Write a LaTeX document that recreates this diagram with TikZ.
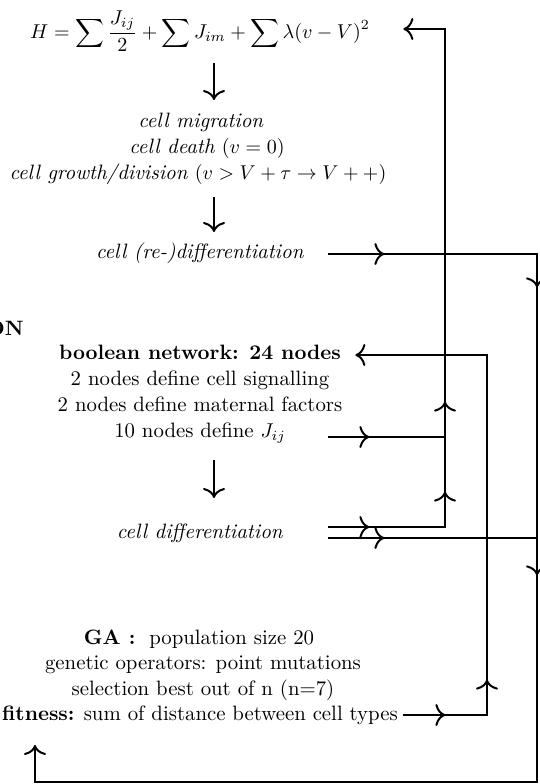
\documentclass[tikz,border=0pt]{standalone}
\usetikzlibrary{arrows.meta,decorations.markings}
\tikzset{
  hd/.tip={Computer Modern Rightarrow[length=5pt,width=11pt]},
  wire/.style={line width=1pt},
  arr at/.style={postaction={decorate,decoration={markings,mark=at position #1 with {\arrow{hd}}}}},
  txt/.style={inner sep=0pt,anchor=base,font=\fontsize{10.4}{12.5}\selectfont},
}
\begin{document}
\begin{tikzpicture}[x=0.5pt,y=-0.5pt]
\fill[white] (0,0) rectangle (540,784);
\useasboundingbox (0,0) rectangle (540,784);
% texts
\node[txt,minimum width=203pt] (H) at (200,38) {$\displaystyle H=\sum\frac{J_{ij}}{2}+\sum J_{im}+\sum\lambda(v-V)^2$};
\node[txt] (mig) at (201,127) {\textit{cell migration}};
\node[txt] (death) at (207,153) {\textit{cell death} $(v=0)$};
\node[txt] (grow) at (198,179) {\textit{cell growth/division} $(v>V+\tau\rightarrow V++)$};
\node[txt,minimum width=128pt] (rd) at (200,258) {\textit{cell (re-)differentiation}};
\node[txt,anchor=base east] (on) at (24,335) {\textbf{ON}};
\node[txt,minimum width=155pt] (bn) at (200,359) {\textbf{boolean network: 24 nodes}};
\node[txt] (sig) at (200,385) {2 nodes define cell signalling};
\node[txt] (mat) at (200,411) {2 nodes define maternal factors};
\node[txt,minimum width=128pt] (jn) at (200,437) {10 nodes define $J_{ij}$};
\node[txt,minimum width=128pt] (cd) at (200,538) {\textit{cell differentiation}};
\node[txt] (ga) at (199,644) {\textbf{GA :}\ \ population size 20};
\node[txt] (gen) at (203,669) {genetic operators: point mutations};
\node[txt] (sel) at (203,695) {selection best out of n (n=7)};
\node[txt,minimum width=203pt] (fit) at (200,720) {\textbf{fitness:} sum of distance between cell types};
% corner coordinates
\coordinate (Atop) at (445,29);
\coordinate (Abot) at (445,527);
\coordinate (Btop) at (487,355);
\coordinate (Bbot) at (487,715);
\coordinate (Ctop) at (537,254);
\coordinate (Cbot) at (537,782);
\coordinate (Lend) at (35,782);
\coordinate (Ltip) at (35,745);
\coordinate (d1s) at (214,63);
\coordinate (d1e) at (214,100);
\coordinate (d2s) at (214,197);
\coordinate (d2e) at (214,232);
\coordinate (d3s) at (214,460);
\coordinate (d3e) at (214,498);
% down arrows in the text column
\draw[wire,-{hd}] (d1s) -- (d1e);
\draw[wire,-{hd}] (d2s) -- (d2e);
\draw[wire,-{hd}] (d3s) -- (d3e);
% loops
\draw[wire,-{hd},arr at=20.5pt,arr at=76pt,arr at=121pt]
  ([yshift=5.5pt]cd.base east) -- (Abot) -- (Atop) -- ([yshift=4.5pt]H.base east);
\draw[wire,arr at=20.5pt] (jn.base east) -- ++(58.5pt,0);
\draw[wire,-{hd},arr at=28pt,arr at=121pt,arr at=265pt]
  ([yshift=2pt]rd.base east) -- (Ctop) -- (Cbot) -- (Lend) -- (Ltip);
\draw[wire,arr at=28pt] (cd.base east) -- ++(104.5pt,0);
\draw[wire,-{hd},arr at=21pt,arr at=59.5pt]
  ([yshift=2.5pt]fit.base east) -- (Bbot) -- (Btop) -- ([yshift=2pt]bn.base east);
\end{tikzpicture}
\end{document}
